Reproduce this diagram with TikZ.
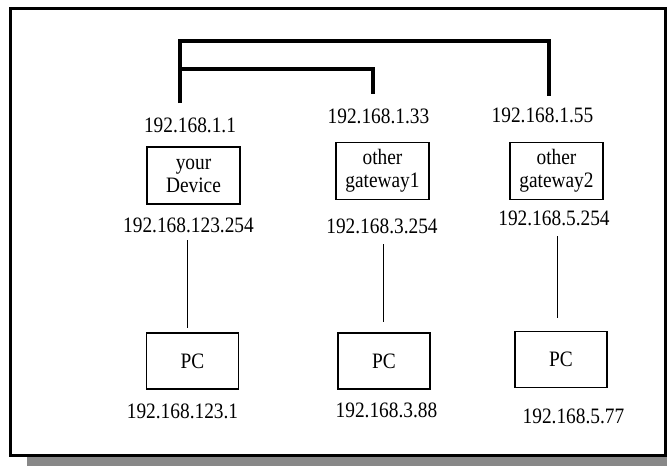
\documentclass[tikz,border=0pt]{standalone}
\usepackage{fontspec}
\setmainfont{Liberation Serif}[FakeStretch=0.88]
\begin{document}
\begin{tikzpicture}[x=1pt,y=-1pt,
  lbl/.style={inner sep=0pt,anchor=base,font=\fontsize{22}{23}\selectfont},
  devbox/.style={draw,line width=1.2pt,minimum width=93pt,minimum height=57pt,inner sep=0pt,align=center,font=\fontsize{22}{23}\selectfont},
  pcbox/.style={draw,line width=1.2pt,minimum width=92pt,minimum height=56pt,inner sep=0pt,font=\fontsize{22}{23}\selectfont},
  bus/.style={line width=4.5pt},
  subbus/.style={line width=3.5pt},
  wire/.style={line width=1pt}]
\useasboundingbox (0,0) rectangle (667,466);
\fill[white] (0,0) rectangle (667,466);
% frame and shadow
\fill[fill={rgb,255:red,136;green,136;blue,136}] (27,457) rectangle (667,466);
\draw[line width=3pt] (10.5,8.8) rectangle (665.8,455);
% bus coordinates
\coordinate (b1) at (180,103);
\coordinate (b2) at (373,94);
\coordinate (b3) at (549,96);
\coordinate (btl) at (180,41);
\coordinate (btr) at (549,41);
\coordinate (bml) at (180,69);
\coordinate (bmr) at (373,69);
\draw[bus,line cap=butt] (b1) -- (btl) -- (btr) -- (b3);
\draw[subbus] (bml) -- (bmr) -- (b2);
% top addresses
\node[lbl] (l1a) at (190,132) {192.168.1.1};
\node[lbl] (l2a) at (378.5,123) {192.168.1.33};
\node[lbl] (l3a) at (542.5,122) {192.168.1.55};
% devices
\node[devbox] (dev) at (193.5,175.5) {your\\Device};
\node[devbox] (gw1) at (382.5,171) {other\\gateway1};
\node[devbox] (gw2) at (556.5,171) {other\\gateway2};
% lan addresses
\node[lbl] (l1b) at (188.5,232) {192.168.123.254};
\node[lbl] (l2b) at (382,233) {192.168.3.254};
\node[lbl] (l3b) at (554,225) {192.168.5.254};
% pcs
\node[pcbox] (pc1) at (192.5,361) {PC};
\node[pcbox] (pc2) at (384,361) {PC};
\node[pcbox] (pc3) at (561,359.5) {PC};
% pc addresses
\node[lbl] (l1c) at (182.5,418) {192.168.123.1};
\node[lbl] (l2c) at (386.5,417) {192.168.3.88};
\node[lbl] (l3c) at (573.5,423) {192.168.5.77};
% wires
\coordinate (w1t) at (187,240);
\coordinate (w1b) at (187,328);
\coordinate (w2t) at (383,244);
\coordinate (w2b) at (383,322);
\coordinate (w3t) at (557,236);
\coordinate (w3b) at (557,318);
\draw[wire] (w1t) -- (w1b);
\draw[wire] (w2t) -- (w2b);
\draw[wire] (w3t) -- (w3b);
\end{tikzpicture}
\end{document}
